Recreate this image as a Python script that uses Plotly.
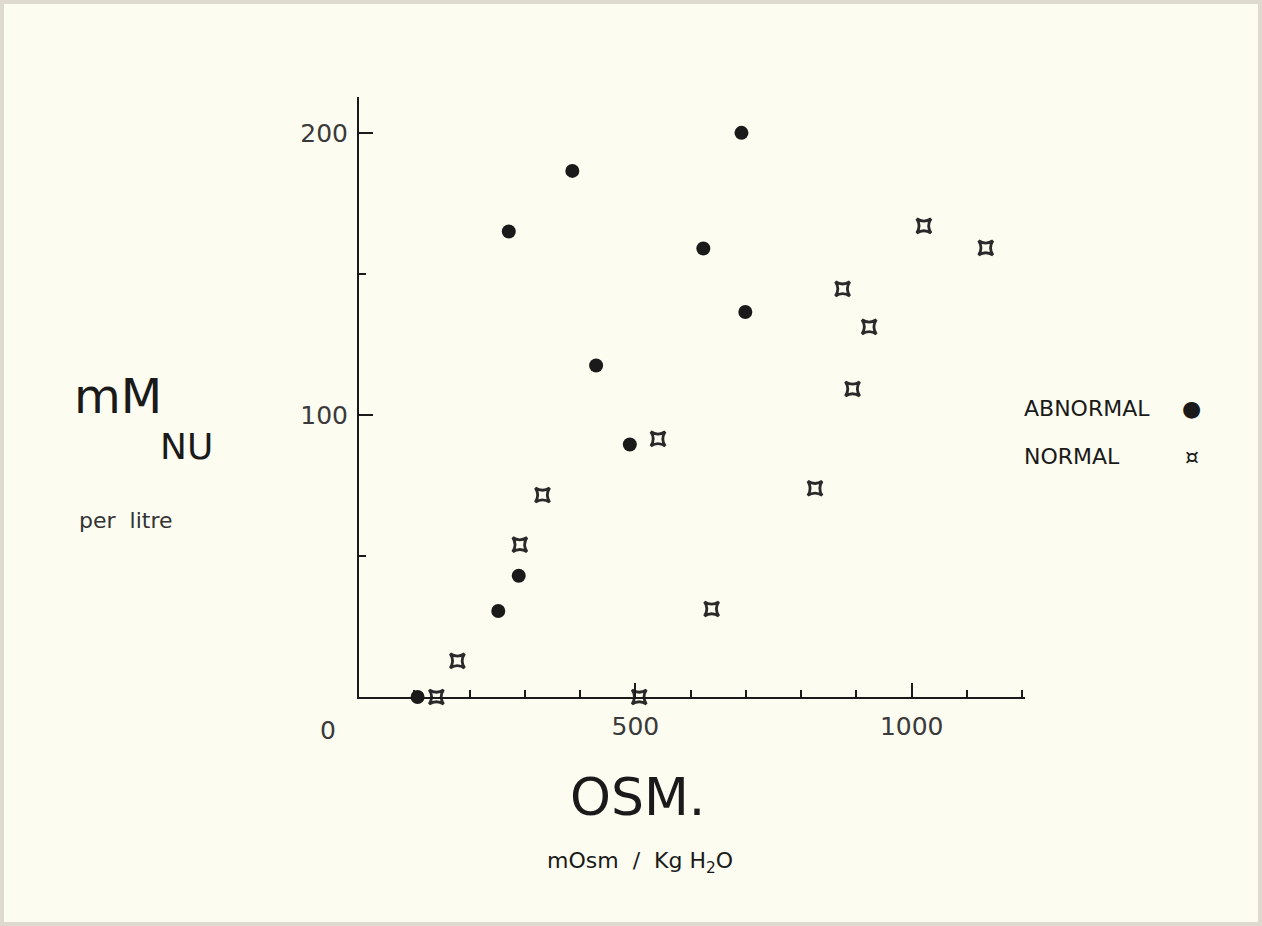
import plotly.graph_objects as go

# Data (x: mOsm/Kg H2O, y: mM NU per litre)
abnormal_x = [106, 252, 289, 271, 386, 429, 490, 623, 692, 699]
abnormal_y = [0, 30.5, 43, 165, 186.5, 117.5, 89.5, 159, 200, 136.5]

normal_x = [140, 178, 291, 332, 541, 507, 638, 825, 875, 893, 923, 1022, 1134]
normal_y = [0, 12.8, 54, 71.6, 91.5, 0, 31.2, 74, 144.7, 109.2, 131.2, 167, 159.2]

x_tickvals = [500, 1000]
x_ticktext = ["500", "1000"]
y_tickvals = [100, 200]
y_ticktext = ["100", "200"]

FONT = "DejaVu Sans"
INK = "#1a1a1a"
BG = "#fdfcf1"

fig = go.Figure()
fig.add_trace(go.Scatter(
    x=abnormal_x, y=abnormal_y, mode="markers", name="ABNORMAL",
    marker=dict(symbol="circle", size=14, color=INK),
    cliponaxis=False, showlegend=False))
fig.add_trace(go.Scatter(
    x=normal_x, y=normal_y, mode="markers", name="NORMAL",
    marker=dict(symbol="star-square-open", size=13, color="#2a2a2a",
                line=dict(width=2.8, color="#2a2a2a")),
    cliponaxis=False, showlegend=False))

fig.update_xaxes(
    range=[0, 1205], showgrid=False, zeroline=False,
    showline=True, linecolor=INK, linewidth=2,
    tickmode="array", tickvals=x_tickvals, ticktext=x_ticktext,
    ticks="inside", ticklen=14, tickwidth=1.5, tickcolor=INK,
    minor=dict(dtick=100, ticks="inside", ticklen=7, tickwidth=1.5, tickcolor=INK),
    ticklabelstandoff=6,
    tickfont=dict(family=FONT, size=25, color="#3a3a3a"))
fig.update_yaxes(
    range=[0, 212.7], showgrid=False, zeroline=False,
    showline=True, linecolor=INK, linewidth=2,
    tickmode="array", tickvals=y_tickvals, ticktext=y_ticktext,
    ticks="inside", ticklen=14, tickwidth=1.5, tickcolor=INK,
    minor=dict(dtick=50, ticks="inside", ticklen=7, tickwidth=1.5, tickcolor=INK),
    ticklabelstandoff=4,
    tickfont=dict(family=FONT, size=25, color="#3a3a3a"))

ann = [
    dict(text="0", x=328, y=730, size=25, color="#3a3a3a", anchor="center"),
    dict(text="OSM.", x=637, y=797, size=52, color=INK, anchor="center"),
    dict(text="mOsm  /  Kg H<sub>2</sub>O", x=640, y=862, size=22, color=INK, anchor="center"),
    dict(text="mM", x=118, y=396, size=48, color=INK, anchor="center"),
    dict(text="NU", x=186, y=447, size=36, color=INK, anchor="center"),
    dict(text="per  litre", x=125, y=520, size=22, color="#333333", anchor="center"),
    dict(text="ABNORMAL", x=1022, y=408, size=22, color=INK, anchor="left"),
    dict(text="\u25CF", x=1191, y=408, size=22, color=INK, anchor="center"),
    dict(text="NORMAL", x=1022, y=456, size=22, color=INK, anchor="left"),
    dict(text="\u00A4", x=1192, y=456, size=22, color=INK, anchor="center"),
]
annotations = []
for a in ann:
    annotations.append(dict(
        text=a["text"], xref="paper", yref="paper", showarrow=False,
        x=(a["x"] - 359) / (1025 - 359), y=(697 - a["y"]) / (697 - 97),
        xanchor=a["anchor"], yanchor="middle",
        font=dict(family=FONT, size=a["size"], color=a["color"])))

fig.update_layout(
    width=1262, height=926,
    margin=dict(l=359, r=237, t=97, b=229),
    paper_bgcolor=BG, plot_bgcolor=BG,
    annotations=annotations,
    shapes=[dict(type="rect", xref="paper", yref="paper",
                 x0=(0 - 359) / 666, x1=(1262 - 359) / 666,
                 y0=(697 - 926) / 600, y1=(697 - 0) / 600,
                 line=dict(color="#dedad0", width=8), layer="below")])

fig.write_html("out.html")
